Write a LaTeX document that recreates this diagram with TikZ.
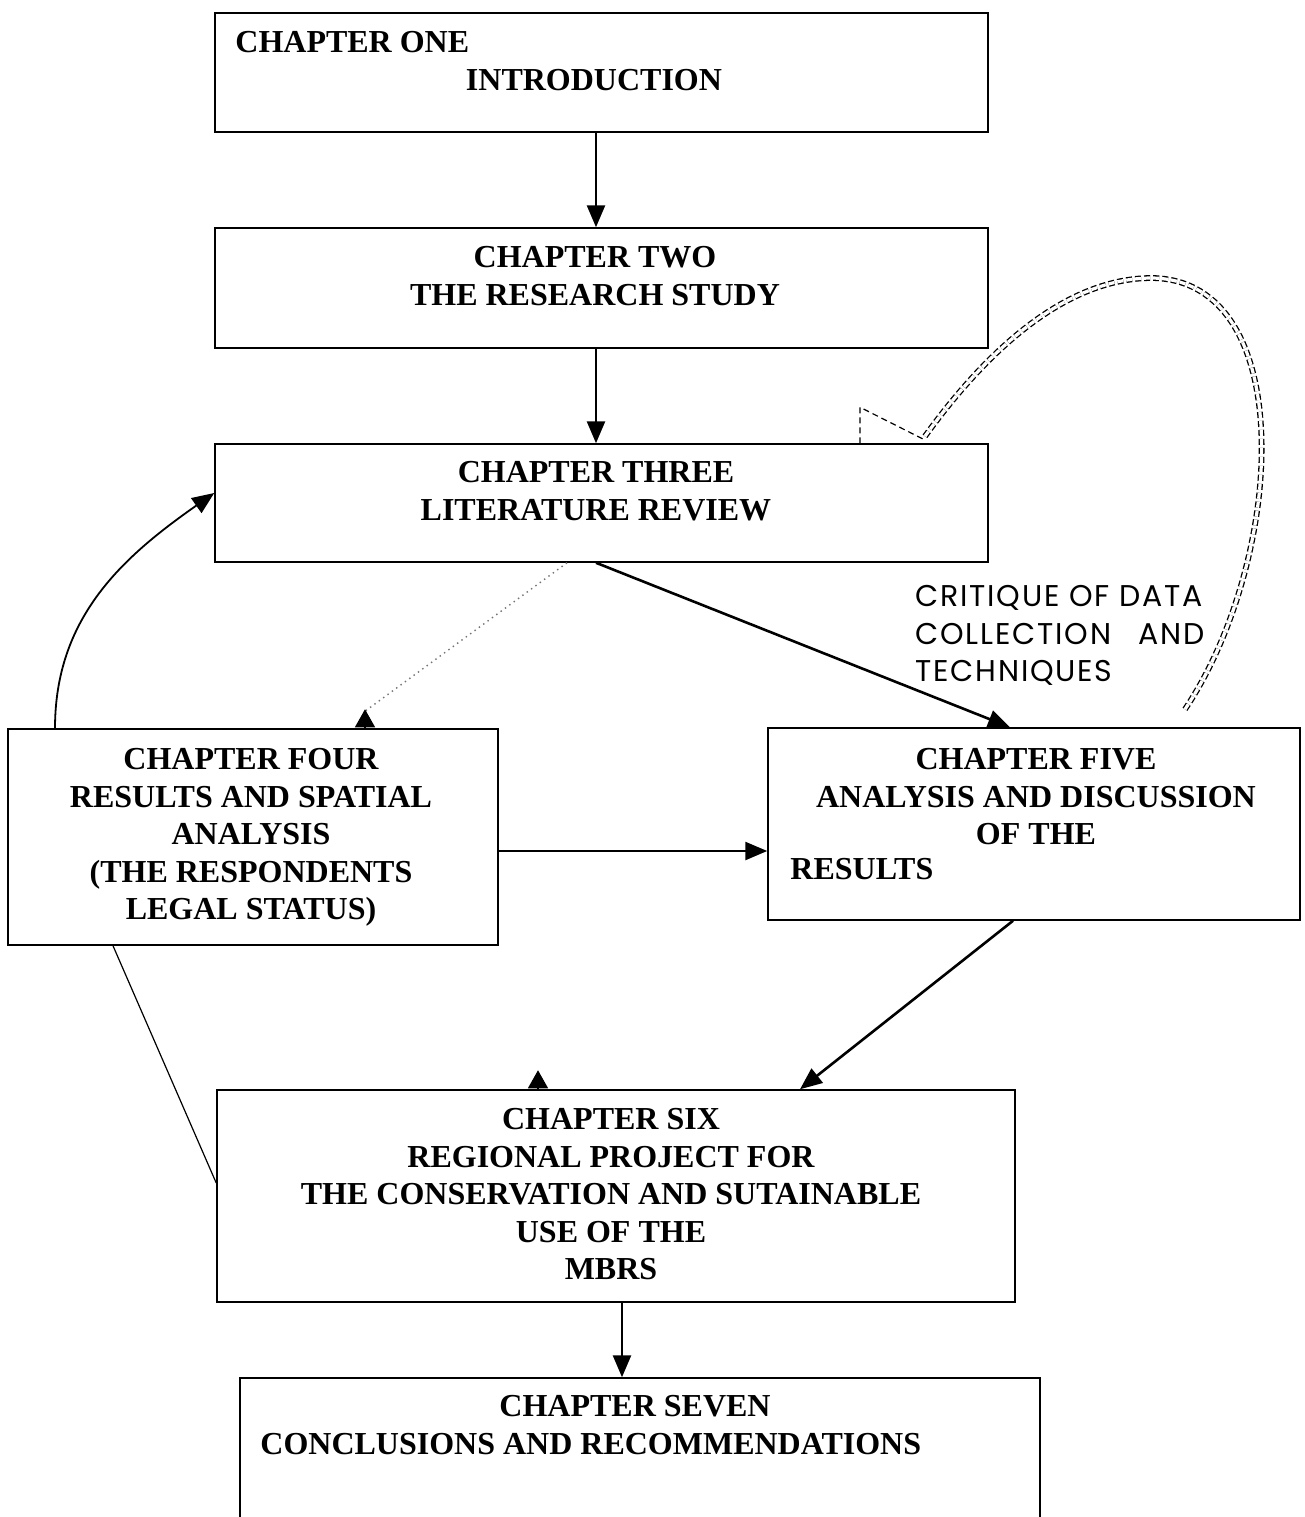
\documentclass[tikz,border=0pt]{standalone}
\usepackage{fontspec}
\setmainfont{Liberation Serif}
\newfontfamily\gothicfont[LetterSpace=6]{Poppins}
\usetikzlibrary{arrows.meta,fit}
\begin{document}
\begin{tikzpicture}[x=0.5pt,y=-0.5pt,
  box/.style={draw, line width=0.75pt, inner sep=0pt},
  tx/.style={font=\bfseries\fontsize{16}{18.75}\selectfont, inner sep=0pt, align=center, anchor=north},
  txl/.style={tx, anchor=north west, align=left},
  arr/.style={line width=1.3pt, -{Triangle[length=11pt,width=9pt]}},
  uptip/.style={line width=0.6pt, -{Triangle[length=9pt,width=10pt]}},
  thinline/.style={line width=0.6pt},
  dotline/.style={line width=0.7pt, dotted, black!55},
  dashline/.style={line width=0.6pt, dash pattern=on 3pt off 2pt},
  dbl/.style={double, double distance=1.6pt, line width=0.65pt, dash pattern=on 3pt off 1.5pt},
  note/.style={font=\gothicfont\fontsize{15}{18.75}\selectfont, inner sep=0pt, anchor=north west, align=left}]
\clip (0,0) rectangle (1305,1517);
\fill[white] (0,0) rectangle (1305,1517);

% boxes
\node[box, fit={(215,13) (988,132)}] (c1) {};
\node[box, fit={(215,228) (988,348)}] (c2) {};
\node[box, fit={(215,444) (988,562)}] (c3) {};
\node[box, fit={(8,729) (498,945)}] (c4) {};
\node[box, fit={(768,728) (1300,920)}] (c5) {};
\node[box, fit={(217,1090) (1015,1302)}] (c6) {};
\node[box, fit={(240,1378) (1040,1540)}] (c7) {};

% texts
\node[txl] (t1a) at (235,31) {CHAPTER ONE};
\node[tx] (t1b) at (594,69) {INTRODUCTION};
\node[tx] (t2) at (595,246) {CHAPTER TWO\\THE RESEARCH STUDY};
\node[tx] (t3) at (596,461) {CHAPTER THREE\\LITERATURE REVIEW};
\node[tx] (t4) at (251,748) {CHAPTER FOUR\\RESULTS AND SPATIAL\\ANALYSIS\\(THE RESPONDENTS\\LEGAL STATUS)};
\node[tx] (t5) at (1036,748) {CHAPTER FIVE\\ANALYSIS AND DISCUSSION\\OF THE};
\node[txl] (t5b) at (790,858) {RESULTS};
\node[tx] (t6) at (611,1108) {CHAPTER SIX\\REGIONAL PROJECT FOR\\THE CONSERVATION AND SUTAINABLE\\USE OF THE\\MBRS};
\node[tx] (t7a) at (635,1395) {CHAPTER SEVEN};
\node[txl] (t7b) at (260,1433) {CONCLUSIONS AND RECOMMENDATIONS};
\node[note] (crit) at (915,585) {CRITIQUE OF DATA\\COLLECTION\hspace{0.9em}AND\\TECHNIQUES};

% straight connectors
\draw[arr] ([xshift=-2.75pt]c1.south) -- ([xshift=-2.75pt]c2.north);
\draw[arr] ([xshift=-2.75pt]c2.south) -- ([xshift=-2.75pt]c3.north);
\draw[arr] ([xshift=-2.75pt]c3.south) -- ([xshift=-12pt]c5.north);
\draw[arr] ([yshift=-7pt]c4.east) -- ([yshift=-13.5pt]c5.west);
\draw[arr] ([xshift=-10.5pt]c5.south) -- ([xshift=92pt]c6.north);
\draw[arr] ([xshift=3pt]c6.south) -- ([xshift=-9pt]c7.north);

% curved feedback from chapter four to chapter three
\draw[arr, line width=0.9pt] ([xshift=-99pt]c4.north) to[out=90,in=215] ([yshift=5pt]c3.west);

% dotted line from chapter three to chapter four
\draw[dotline] ([xshift=-17.25pt]c3.south) -- ([xshift=56pt,yshift=8.5pt]c4.north);
\draw[uptip] ([xshift=56pt]c4.north) -- ([xshift=56pt,yshift=9.5pt]c4.north);

% lone arrowhead on top of chapter six
\draw[uptip] ([xshift=-39pt]c6.north) -- ([xshift=-39pt,yshift=9.5pt]c6.north);

% thin line from chapter four to chapter six
\draw[thinline] ([xshift=-70pt]c4.south) -- ([yshift=6.5pt]c6.west);

% dashed double loop from chapter five back to chapter three
\draw[dbl] ([xshift=75.5pt,yshift=9pt]c5.north)
  .. controls (1285,560) and (1300,280) .. (1152,278)
  .. controls (1060,278) and (980,360) .. ([xshift=161.75pt,yshift=3.5pt]c3.north);
\draw[dashline] ([xshift=129.25pt]c3.north) -- ++(0,-36) -- ([xshift=161pt,yshift=2pt]c3.north);
\end{tikzpicture}
\end{document}
